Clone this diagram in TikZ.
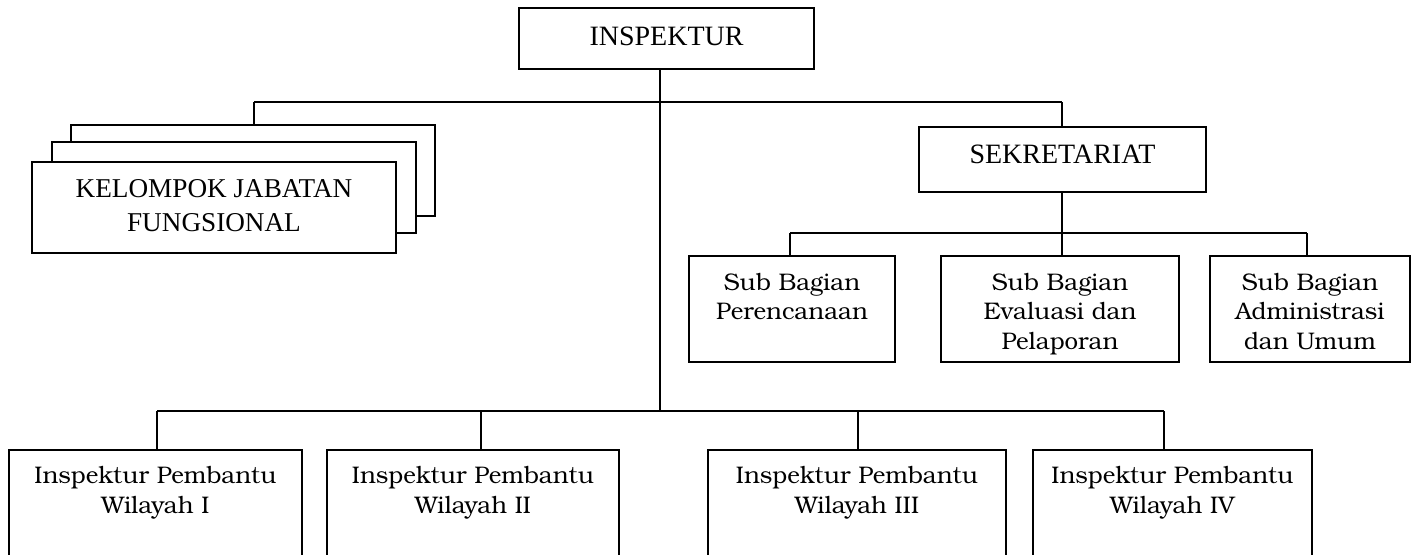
\documentclass[tikz,border=0pt]{standalone}
\usepackage{fontspec}
\setmainfont{texgyrebonum-regular.otf}
\newfontfamily\capsfont{Liberation Serif}
\newcommand\boxtxt[4]{\begin{minipage}[t][#1][t]{#2}\centering\baselineskip=#3\rule{0pt}{#4}}
\newcommand\boxend{\end{minipage}}
\tikzset{
  orgbox/.style={draw=black, line width=0.9pt, fill=white, rectangle, inner sep=0pt, outer sep=0pt},
  conn/.style={draw=black, line width=0.9pt},
}
\begin{document}
\begin{tikzpicture}[x=0.5pt,y=-0.5pt]
\useasboundingbox (0,0) rectangle (1417,554);
\clip (0,0) rectangle (1417,554);
\fill[white] (0,0) rectangle (1417,554);

% INSPEKTUR
\node[orgbox, minimum width=147.5pt, minimum height=30.5pt] (insp) at (666.5,38.5)
  {\boxtxt{30.5pt}{147.5pt}{17pt}{18.5pt}\capsfont\fontsize{14pt}{17pt}\selectfont INSPEKTUR\boxend};

% Kelompok jabatan fungsional (stack)
\node[orgbox, minimum width=182pt, minimum height=45.5pt] (kjf3) at (253,170.5) {};
\node[orgbox, minimum width=182pt, minimum height=45.5pt] (kjf2) at (234,187.5) {};
\node[orgbox, minimum width=182pt, minimum height=45.5pt] (kjf) at (214,207.5)
  {\boxtxt{45.5pt}{182pt}{17.2pt}{17.5pt}\capsfont\fontsize{13.6pt}{17.2pt}\selectfont KELOMPOK JABATAN\\FUNGSIONAL\boxend};

% Sekretariat
\node[orgbox, minimum width=143.5pt, minimum height=32.5pt] (sekr) at (1062.5,159.5)
  {\boxtxt{32.5pt}{143.5pt}{17pt}{18pt}\capsfont\fontsize{14pt}{17pt}\selectfont SEKRETARIAT\boxend};

% Sub bagian
\node[orgbox, minimum width=103pt, minimum height=53pt] (sb1) at (792,309)
  {\boxtxt{53pt}{103pt}{14.8pt}{17pt}\fontsize{12pt}{14.8pt}\selectfont Sub Bagian\\Perencanaan\boxend};
\node[orgbox, minimum width=119pt, minimum height=53pt] (sb2) at (1060,309)
  {\boxtxt{53pt}{119pt}{14.8pt}{17pt}\fontsize{12pt}{14.8pt}\selectfont Sub Bagian\\Evaluasi dan\\Pelaporan\boxend};
\node[orgbox, minimum width=100pt, minimum height=53pt] (sb3) at (1310,309)
  {\boxtxt{53pt}{100pt}{14.8pt}{17pt}\fontsize{12pt}{14.8pt}\selectfont Sub Bagian\\Administrasi\\dan Umum\boxend};

% Inspektur Pembantu
\node[orgbox, minimum width=146.5pt, minimum height=75pt] (ip1) at (155.5,525)
  {\boxtxt{75pt}{146.5pt}{15pt}{16.5pt}\fontsize{12pt}{15pt}\selectfont Inspektur Pembantu\\Wilayah I\boxend};
\node[orgbox, minimum width=146pt, minimum height=75pt] (ip2) at (473,525)
  {\boxtxt{75pt}{146pt}{15pt}{16.5pt}\fontsize{12pt}{15pt}\selectfont Inspektur Pembantu\\Wilayah II\boxend};
\node[orgbox, minimum width=149pt, minimum height=75pt] (ip3) at (857,525)
  {\boxtxt{75pt}{149pt}{15pt}{16.5pt}\fontsize{12pt}{15pt}\selectfont Inspektur Pembantu\\Wilayah III\boxend};
\node[orgbox, minimum width=139.5pt, minimum height=75pt] (ip4) at (1172.5,525)
  {\boxtxt{75pt}{139.5pt}{15pt}{16.5pt}\fontsize{12pt}{15pt}\selectfont Inspektur Pembantu\\Wilayah IV\boxend};

% bus coordinates
\coordinate (tm) at (660,102);
\coordinate (tl) at (254,102);
\coordinate (tr) at (1062,102);
\coordinate (bm) at (660,411);
\coordinate (b1) at (157,411);
\coordinate (b2) at (481,411);
\coordinate (b3) at (858,411);
\coordinate (b4) at (1164,411);
\coordinate (sm) at (1062,233);
\coordinate (s1) at (790,233);
\coordinate (s3) at (1307,233);

% connectors
\draw[conn] (insp.south -| bm) -- (bm);
\draw[conn] (tl) -- (tr);
\draw[conn] (tl) -- (tl |- kjf3.north);
\draw[conn] (tr) -- (tr |- sekr.north);
\draw[conn] (b1) -- (b4);
\draw[conn] (b1) -- (b1 |- ip1.north);
\draw[conn] (b2) -- (b2 |- ip2.north);
\draw[conn] (b3) -- (b3 |- ip3.north);
\draw[conn] (b4) -- (b4 |- ip4.north);
\draw[conn] (sekr.south -| sm) -- (sm |- sb2.north);
\draw[conn] (s1) -- (s3);
\draw[conn] (s1) -- (s1 |- sb1.north);
\draw[conn] (s3) -- (s3 |- sb3.north);
\end{tikzpicture}
\end{document}
